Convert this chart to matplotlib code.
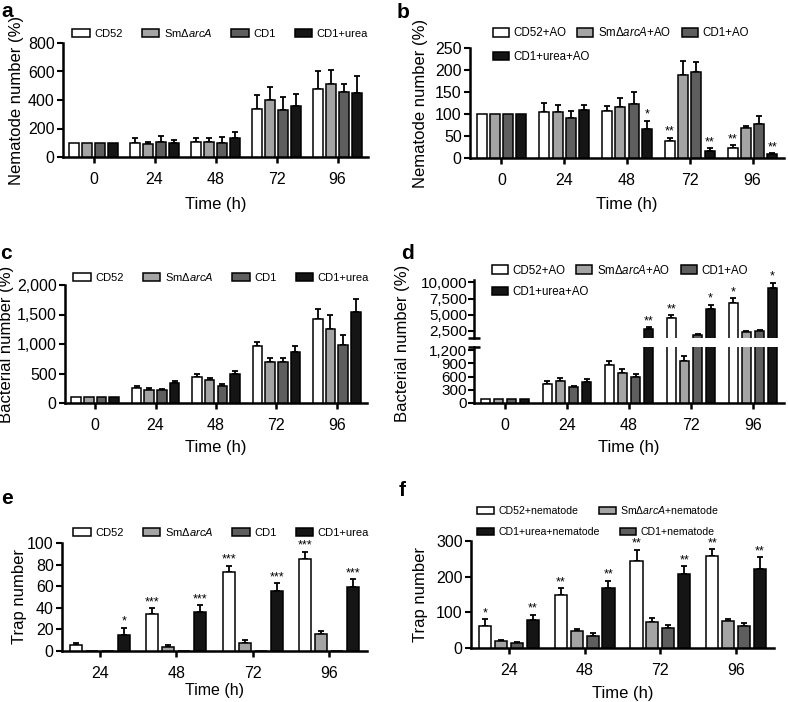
import matplotlib
matplotlib.use('Agg')
import matplotlib.pyplot as plt
import numpy as np

plt.rcParams['font.family'] = ['Liberation Sans', 'DejaVu Sans']
plt.rcParams['mathtext.fontset'] = 'custom'
plt.rcParams['mathtext.rm'] = 'Liberation Sans'
plt.rcParams['mathtext.it'] = 'Liberation Sans:italic'

W, H = 788, 702
colors = ['white', '#a4a4a4', '#5e5e5e', '#151515']
SM = 'SmΔ$\\mathit{arcA}$'

times5 = ['0', '24', '48', '72', '96']
times4 = ['24', '48', '72', '96']

# panel a - nematode number (%)
a_cd52 = [100, 100, 106, 335, 477]
a_cd52_err = [0, 36, 30, 100, 125]
a_sm = [100, 90, 105, 398, 513]
a_sm_err = [0, 15, 30, 92, 100]
a_cd1 = [100, 104, 100, 330, 455]
a_cd1_err = [0, 44, 38, 93, 60]
a_urea = [100, 95, 135, 356, 448]
a_urea_err = [0, 25, 42, 88, 120]

# panel b - nematode number with AO
b_cd52 = [100, 104, 107, 38, 22]
b_cd52_err = [0, 22, 12, 8, 7]
b_sm = [100, 105, 117, 189, 68]
b_sm_err = [0, 15, 20, 32, 5]
b_cd1 = [100, 90, 123, 195, 77]
b_cd1_err = [0, 17, 26, 24, 18]
b_urea = [100, 109, 67, 17, 9]
b_urea_err = [0, 12, 18, 5, 2]
b_stars = [(2, 3, '*'), (3, 0, '**'), (3, 3, '**'), (4, 0, '**'), (4, 3, '**')]

# panel c - bacterial number (%)
c_cd52 = [100, 255, 445, 960, 1420]
c_cd52_err = [0, 35, 45, 70, 180]
c_sm = [100, 225, 395, 700, 1250]
c_sm_err = [0, 33, 35, 70, 245]
c_cd1 = [100, 212, 290, 700, 990]
c_cd1_err = [0, 30, 28, 55, 165]
c_urea = [100, 335, 495, 870, 1540]
c_urea_err = [0, 42, 55, 90, 215]

# panel d - bacterial number with AO (broken axis)
d_cd52 = [100, 435, 860, 4500, 6800]
d_cd52_err = [0, 60, 100, 400, 750]
d_sm = [100, 490, 670, 950, 2200]
d_sm_err = [0, 80, 90, 110, 250]
d_cd1 = [100, 355, 580, 1800, 2350]
d_cd1_err = [0, 35, 70, 100, 250]
d_urea = [100, 470, 2700, 5800, 9150]
d_urea_err = [0, 80, 300, 700, 800]
d_stars = [(2, 3, '**'), (3, 0, '**'), (3, 3, '*'), (4, 0, '*'), (4, 3, '*')]

# panel e - trap number
e_cd52 = [5.3, 34.5, 73, 85]
e_cd52_err = [2, 5, 6, 7]
e_sm = [0, 3.7, 7.5, 15.5]
e_sm_err = [0, 2, 3, 3]
e_cd1 = [0, 0, 0, 0]
e_cd1_err = [0, 0, 0, 0]
e_urea = [14.5, 36.5, 55.5, 59.5]
e_urea_err = [7, 6, 7.5, 7]
e_stars = [(0, 3, '*'), (1, 0, '***'), (1, 3, '***'), (2, 0, '***'),
           (2, 3, '***'), (3, 0, '***'), (3, 3, '***')]

# panel f - trap number with nematodes
f_cd52 = [63, 149, 245, 259]
f_cd52_err = [17, 19, 30, 18]
f_sm = [19, 47, 72, 76]
f_sm_err = [4, 5, 13, 6]
f_cd1 = [13, 35, 57, 61]
f_cd1_err = [5, 6, 7, 10]
f_urea = [79, 169, 207, 222]
f_urea_err = [14, 20, 22, 32]
f_stars = [(0, 0, '*'), (0, 3, '**'), (1, 0, '**'), (1, 3, '**'),
           (2, 0, '**'), (2, 3, '**'), (3, 0, '**'), (3, 3, '**')]

fig = plt.figure(figsize=(W / 100, H / 100), dpi=100)


def make_ax(l, t, r, b):
    return fig.add_axes([l / W, 1 - b / H, (r - l) / W, (b - t) / H])


def style(ax, groups, bottom=True):
    for s in ['top', 'right']:
        ax.spines[s].set_visible(False)
    ax.spines['left'].set_linewidth(1.8)
    ax.spines['bottom'].set_linewidth(1.8)
    ax.set_xlim(-0.5, len(groups) - 0.5)
    ax.tick_params(axis='y', direction='out', length=4, width=1.5, labelsize=11.5, pad=2)
    if bottom:
        ax.set_xticks(np.arange(len(groups)))
        ax.set_xticklabels(groups)
        ax.tick_params(axis='x', direction='out', length=4, width=1.8, labelsize=11.5, pad=6.5)
    else:
        ax.spines['bottom'].set_visible(False)
        ax.set_xticks([])


def draw_bars(ax, series, errs, width=0.16, step=0.21):
    conts = []
    for i, (vals, err) in enumerate(zip(series, errs)):
        x = np.arange(len(vals)) + (i - 1.5) * step
        vals = np.array(vals, float)
        err = np.array(err, float)
        c = ax.bar(x, vals, width, color=colors[i], edgecolor='black', linewidth=1.1, zorder=3)
        conts.append(c)
        m = err > 0
        ax.errorbar(x[m], vals[m], yerr=[np.zeros(m.sum()), err[m]], fmt='none',
                    ecolor='black', elinewidth=1.3, capsize=2.5, capthick=1.3, zorder=2)
    return conts


def add_stars(ax, series, errs, stars, step=0.21, fs=9):
    for g, i, s in stars:
        x = g + (i - 1.5) * step
        y = series[i][g] + errs[i][g]
        ax.annotate(s, (x, y), xytext=(0, 0), textcoords='offset points',
                    ha='center', va='bottom', fontsize=fs)


def legend_row(handles, labels, x, y, colsp=1.6, fs=8, hl=1.6):
    fig.legend(handles, labels, loc='center left', bbox_to_anchor=(x / W, 1 - y / H),
               bbox_transform=fig.transFigure, ncol=len(handles), frameon=False, fontsize=fs,
               handlelength=hl, handleheight=0.72, handletextpad=0.4,
               columnspacing=colsp, borderpad=0, borderaxespad=0)


# ---- a ----
ax = make_ax(63, 43, 368, 157)
style(ax, times5)
sa = [a_cd52, a_sm, a_cd1, a_urea]
ea = [a_cd52_err, a_sm_err, a_cd1_err, a_urea_err]
h = draw_bars(ax, sa, ea)
ax.set_ylim(0, 800)
ax.set_yticks([0, 200, 400, 600, 800])
ax.set_ylabel('Nematode number (%)', fontsize=12)
ax.set_xlabel('Time (h)', fontsize=12)
ax.yaxis.set_label_coords(-0.128, 0.5)
ax.xaxis.set_label_coords(0.5, -0.35)
legend_row(h, ['CD52', SM, 'CD1', 'CD1+urea'], 72, 33, colsp=1.7)

# ---- b ----
ax = make_ax(470, 48, 784, 158)
style(ax, times5)
sb = [b_cd52, b_sm, b_cd1, b_urea]
eb = [b_cd52_err, b_sm_err, b_cd1_err, b_urea_err]
h = draw_bars(ax, sb, eb)
add_stars(ax, sb, eb, b_stars)
ax.set_ylim(0, 250)
ax.set_yticks([0, 50, 100, 150, 200, 250])
ax.set_ylabel('Nematode number (%)', fontsize=12)
ax.set_xlabel('Time (h)', fontsize=12)
ax.yaxis.set_label_coords(-0.134, 0.5)
ax.xaxis.set_label_coords(0.5, -0.355)
legend_row(h[:3], ['CD52+AO', SM + '+AO', 'CD1+AO'], 493, 33, colsp=0.9, fs=8.3, hl=1.4)
legend_row(h[3:], ['CD1+urea+AO'], 493, 57, fs=8.3, hl=1.4)

# ---- c ----
ax = make_ax(65, 285, 367, 403)
style(ax, times5)
sc = [c_cd52, c_sm, c_cd1, c_urea]
ec = [c_cd52_err, c_sm_err, c_cd1_err, c_urea_err]
h = draw_bars(ax, sc, ec)
ax.set_ylim(0, 2000)
ax.set_yticks([0, 500, 1000, 1500, 2000])
ax.set_yticklabels(['0', '500', '1,000', '1,500', '2,000'])
ax.set_ylabel('Bacterial number (%)', fontsize=12)
ax.set_xlabel('Time (h)', fontsize=12)
ax.yaxis.set_label_coords(-0.169, 0.5)
ax.xaxis.set_label_coords(0.5, -0.31)
legend_row(h, ['CD52', SM, 'CD1', 'CD1+urea'], 73, 277, colsp=1.7)

# ---- d (broken axis) ----
sd = [d_cd52, d_sm, d_cd1, d_urea]
ed = [d_cd52_err, d_sm_err, d_cd1_err, d_urea_err]
axb = make_ax(474, 347, 784, 403)
style(axb, times5)
h = draw_bars(axb, sd, ed)
axb.set_ylim(0, 1270)
axb.set_yticks([0, 300, 600, 900, 1200])
axb.set_yticklabels(['0', '300', '600', '900', '1,200'])
axb.tick_params(axis='y', labelsize=11, pad=1)
axt = make_ax(474, 280, 784, 338)
style(axt, times5, bottom=False)
draw_bars(axt, sd, ed)
add_stars(axt, sd, ed, d_stars)
axt.set_ylim(1330, 10390)
axt.set_yticks([2500, 5000, 7500, 10000])
axt.set_yticklabels(['2,500', '5,000', '7,500', '10,000'])
axt.tick_params(axis='y', labelsize=11, pad=1)
for a_, yy in [(axb, 1), (axt, 0)]:
    a_.plot([-0.018, 0.018], [yy, yy], transform=a_.transAxes, color='black',
            lw=1.8, clip_on=False, solid_capstyle='butt')
axb.set_ylabel('Bacterial number (%)', fontsize=12)
axb.set_xlabel('Time (h)', fontsize=12)
axb.yaxis.set_label_coords(-0.206, 1.07)
axb.xaxis.set_label_coords(0.5, -0.66)
legend_row(h[:3], ['CD52+AO', SM + '+AO', 'CD1+AO'], 492, 270, colsp=0.9, fs=8.3, hl=1.4)
legend_row(h[3:], ['CD1+urea+AO'], 492, 292, fs=8.3, hl=1.4)

# ---- e ----
ax = make_ax(62, 543, 367, 651)
style(ax, times4)
se = [e_cd52, e_sm, e_cd1, e_urea]
ee = [e_cd52_err, e_sm_err, e_cd1_err, e_urea_err]
h = draw_bars(ax, se, ee)
add_stars(ax, se, ee, e_stars)
ax.set_ylim(0, 100)
ax.set_yticks([0, 20, 40, 60, 80, 100])
ax.set_ylabel('Trap number', fontsize=12)
ax.set_xlabel('Time (h)', fontsize=11.5)
ax.yaxis.set_label_coords(-0.115, 0.5)
ax.xaxis.set_label_coords(0.5, -0.3)
legend_row(h, ['CD52', SM, 'CD1', 'CD1+urea'], 73, 532, colsp=1.7)

# ---- f ----
ax = make_ax(471, 541, 774, 648)
style(ax, times4)
sf = [f_cd52, f_sm, f_cd1, f_urea]
ef = [f_cd52_err, f_sm_err, f_cd1_err, f_urea_err]
h = draw_bars(ax, sf, ef)
add_stars(ax, sf, ef, f_stars)
ax.set_ylim(0, 300)
ax.set_yticks([0, 100, 200, 300])
ax.set_ylabel('Trap number', fontsize=12)
ax.set_xlabel('Time (h)', fontsize=12)
ax.yaxis.set_label_coords(-0.142, 0.5)
ax.xaxis.set_label_coords(0.5, -0.355)
legend_row([h[0], h[1]], ['CD52+nematode', SM + '+nematode'], 477, 510, colsp=2.0, fs=7.6)
legend_row([h[3], h[2]], ['CD1+urea+nematode', 'CD1+nematode'], 477, 532, colsp=1.9, fs=7.6)

# panel letters
for lab, x, y in [('a', 1, 2), ('b', 397, 3), ('c', 0, 244), ('d', 401, 244),
                  ('e', 1, 489), ('f', 399, 481)]:
    fig.text(x / W, 1 - y / H, lab, fontsize=15, fontweight='bold', ha='left', va='top')

fig.savefig('out.png', dpi=100)
